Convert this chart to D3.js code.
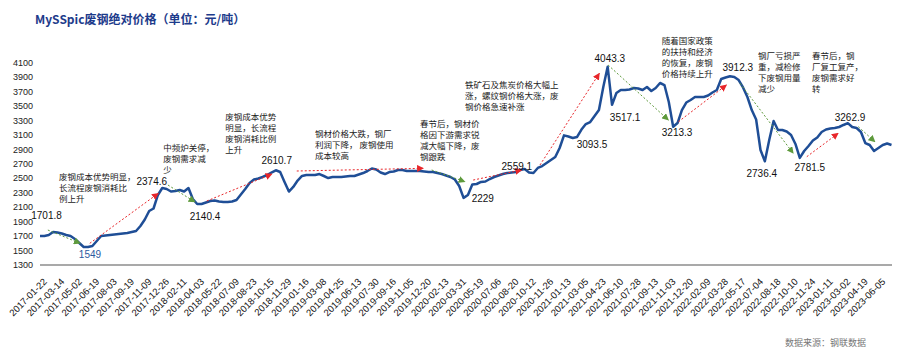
<!DOCTYPE html>
<html>
<head>
<meta charset="utf-8">
<script src="https://cdn.jsdelivr.net/npm/d3@7"></script>
<style>
body { margin: 0; background: #fff; }
svg { display: block; }
</style>
</head>
<body>
<svg width="900" height="359"></svg>
<script>
// category labels shown under the axis (one every 4 samples)
var dateLabels = ["2017-01-22","2017-03-14","2017-05-02","2017-06-19","2017-08-03","2017-09-19","2017-11-09","2017-12-26",
  "2018-02-11","2018-04-03","2018-05-22","2018-07-09","2018-08-23","2018-10-15","2018-11-29",
  "2019-01-16","2019-03-08","2019-04-25","2019-06-13","2019-07-30","2019-09-16","2019-11-05","2019-12-20",
  "2020-02-13","2020-03-31","2020-05-19","2020-07-06","2020-08-20","2020-10-12","2020-11-26",
  "2021-01-13","2021-03-05","2021-04-23","2021-06-10","2021-07-28","2021-09-13","2021-11-03","2021-12-20",
  "2022-02-09","2022-03-28","2022-05-17","2022-07-04","2022-08-18","2022-10-10","2022-11-24",
  "2023-01-11","2023-03-02","2023-04-19","2023-06-05"];

// MySSpic scrap price, yuan/ton
var prices = [1701,1701,1715,1757,1750,1736,1715,1701,1660,1604,
  1549,1549,1563,1632,1701,1708,1715,1722,1729,1736,
  1743,1757,1771,1840,1930,2047,2082,2269,2366,2352,
  2317,2324,2338,2317,2366,2213,2144,2144,2165,2186,
  2193,2179,2172,2172,2179,2200,2276,2352,2435,2483,
  2497,2518,2546,2580,2611,2587,2449,2317,2380,2469,
  2532,2546,2546,2546,2559,2532,2504,2518,2518,2518,
  2525,2532,2532,2553,2573,2601,2636,2622,2580,2559,
  2587,2594,2615,2615,2601,2601,2601,2601,2594,2587,
  2587,2573,2559,2539,2518,2483,2393,2229,2269,2414,
  2421,2449,2456,2490,2518,2539,2559,2573,2580,2587,
  2615,2629,2580,2573,2643,2670,2712,2753,2795,2919,
  3094,3078,3058,3072,3175,3251,3279,3362,3445,3764,
  4043,3517,3680,3722,3722,3729,3750,3743,3722,3764,
  3708,3750,3819,3791,3556,3213,3265,3445,3549,3584,
  3625,3625,3625,3646,3687,3722,3874,3895,3912,3902,
  3860,3757,3625,3445,3314,2892,2736,3030,3293,3168,
  3168,3148,3099,2975,2782,2878,2947,3023,3065,3141,
  3175,3189,3196,3210,3238,3263,3210,3196,3141,2988,
  2961,2878,2919,2961,2982,2961];

var yTicks = [1300,1500,1700,1900,2100,2300,2500,2700,2900,3100,3300,3500,3700,3900,4100];

// value callouts: sample index / price where the label sits
var callouts = [
  {t:"1701.8", i:1.5, v:1982},
  {t:"1549", i:11.45, v:1452, blue:true},
  {t:"2374.6", i:25.6, v:2449},
  {t:"2140.4", i:37.8, v:1978},
  {t:"2610.7", i:54.2, v:2753},
  {t:"2229", i:101.4, v:2227},
  {t:"2559.1", i:109.2, v:2670},
  {t:"3093.5", i:126.4, v:2961},
  {t:"4043.3", i:130.5, v:4165},
  {t:"3517.1", i:134, v:3348},
  {t:"3213.3", i:145.9, v:3127},
  {t:"3912.3", i:159.8, v:4040},
  {t:"2736.4", i:165.3, v:2573},
  {t:"2781.5", i:176.3, v:2656},
  {t:"3262.9", i:185.5, v:3348}
];

// text notes, anchored at the top-left line
var notes = [
  {i:4.35, v:2518, lines:["废钢成本优势明显，","长流程废钢消耗比","例上升"]},
  {i:28.2, v:2915, lines:["中频炉关停，","废钢需求减","少"]},
  {i:42.4, v:3352, lines:["废钢成本优势","明显，长流程","废钢消耗比例","上升"]},
  {i:63, v:3109, lines:["钢材价格大跌，钢厂","利润下降， 废钢使用","成本较高"]},
  {i:87, v:3247, lines:["春节后，钢材价","格因下游需求锐","减大幅下降，废","钢跟跌"]},
  {i:97.3, v:3791, lines:["铁矿石及焦炭价格大幅上","涨，螺纹钢价格大涨，废","钢价格急速补涨"]},
  {i:142.4, v:4404, lines:["随着国家政策","的扶持和经济","的恢复，废钢","价格持续上升"]},
  {i:164.4, v:4193, lines:["钢厂亏损严","重，减检修","下废钢用量","减少"]},
  {i:176.8, v:4193, lines:["春节后，钢","厂复工复产，","废钢需求好","转"]}
];

// trend arrows [i0, v0, i1, v1]
var upArrows = [
  [11.4,1600,27.1,2292],
  [38.2,2186,53.1,2559],
  [58.8,2601,87.8,2638],
  [99.2,2476,110.3,2615],
  [114.5,2684,128.1,3953],
  [146.2,3283,157.2,3791],
  [175.6,2799,182.8,3123]
];
var downArrows = [
  [1.8,1784,9.2,1600],
  [29.3,2407,35.5,2172],
  [89.7,2615,97.3,2453],
  [130.1,4068,143.9,3307],
  [160.3,3815,172.5,2846],
  [187.4,3214,191.2,3006]
];

var svg = d3.select("svg");
var latin = "Arial, 'Liberation Sans', sans-serif";
var cjk = "'Noto Sans CJK SC', sans-serif";

var x = d3.scaleLinear().domain([0, prices.length - 1]).range([40, 891.5]);
var y = d3.scaleLinear().domain([1300, 4100]).range([265, 62.7]);

var defs = svg.append("defs");
[["up", "#e8262a"], ["down", "#5e9a3c"]].forEach(function(m) {
  defs.append("marker")
    .attr("id", "arr-" + m[0])
    .attr("viewBox", "0 0 10 10")
    .attr("refX", 9).attr("refY", 5)
    .attr("markerWidth", 7).attr("markerHeight", 7)
    .attr("markerUnits", "userSpaceOnUse")
    .attr("orient", "auto")
    .append("path").attr("d", "M0,0L10,5L0,10z").attr("fill", m[1]);
});

// title
svg.append("text")
  .attr("x", 35).attr("y", 24)
  .attr("font-family", cjk).attr("font-size", 12).attr("font-weight", "bold")
  .attr("fill", "#1d3b8b")
  .text("MySSpic废钢绝对价格（单位：元/吨）");

// y labels
svg.append("g").selectAll("text").data(yTicks).join("text")
  .attr("x", 33).attr("y", function(d) { return y(d); })
  .attr("dy", "0.35em")
  .attr("text-anchor", "end")
  .attr("font-family", latin).attr("font-size", 9)
  .attr("fill", "#222")
  .text(function(d) { return d; });

// x axis line
svg.append("line")
  .attr("x1", 40).attr("x2", 892)
  .attr("y1", y(1300)).attr("y2", y(1300))
  .attr("stroke", "#8c8c8c").attr("stroke-width", 1.5);

// x labels
svg.append("g").selectAll("text").data(dateLabels).join("text")
  .attr("transform", function(d, i) { return "translate(" + (x(4 * i + 0.5) + 3) + "," + 280 + ") rotate(-45)"; })
  .attr("text-anchor", "end")
  .attr("dy", "0.35em")
  .attr("font-family", latin).attr("font-size", 9.5)
  .attr("fill", "#111")
  .text(function(d) { return d; });

// price line
svg.append("path")
  .datum(prices)
  .attr("fill", "none")
  .attr("stroke", "#1f4e96")
  .attr("stroke-width", 2.5)
  .attr("stroke-linejoin", "round")
  .attr("d", d3.line().x(function(d, i) { return x(i); }).y(function(d) { return y(d); }));

// arrows
function drawArrows(list, color, id) {
  svg.append("g").selectAll("line").data(list).join("line")
    .attr("x1", function(d) { return x(d[0]); })
    .attr("y1", function(d) { return y(d[1]); })
    .attr("x2", function(d) { return x(d[2]); })
    .attr("y2", function(d) { return y(d[3]); })
    .attr("stroke", color).attr("stroke-width", 1)
    .attr("stroke-dasharray", "2,2")
    .attr("marker-end", "url(#arr-" + id + ")");
}
drawArrows(upArrows, "#e8262a", "up");
drawArrows(downArrows, "#5e9a3c", "down");

// value callouts
svg.append("g").selectAll("text").data(callouts).join("text")
  .attr("x", function(d) { return x(d.i); })
  .attr("y", function(d) { return y(d.v); })
  .attr("dy", "0.35em")
  .attr("text-anchor", "middle")
  .attr("font-family", latin).attr("font-size", 10)
  .attr("fill", function(d) { return d.blue ? "#2c5aa0" : "#111"; })
  .text(function(d) { return d.t; });

// notes
notes.forEach(function(n) {
  var t = svg.append("text")
    .attr("font-family", cjk).attr("font-size", 8.5)
    .attr("fill", "#222");
  n.lines.forEach(function(l, k) {
    t.append("tspan")
      .attr("x", x(n.i))
      .attr("y", y(n.v) + k * 11)
      .attr("dy", "0.35em")
      .text(l);
  });
});

// source
svg.append("text")
  .attr("x", 866).attr("y", 346)
  .attr("text-anchor", "end")
  .attr("font-family", cjk).attr("font-size", 9)
  .attr("fill", "#777")
  .text("数据来源：钢联数据");
</script>
</body>
</html>
